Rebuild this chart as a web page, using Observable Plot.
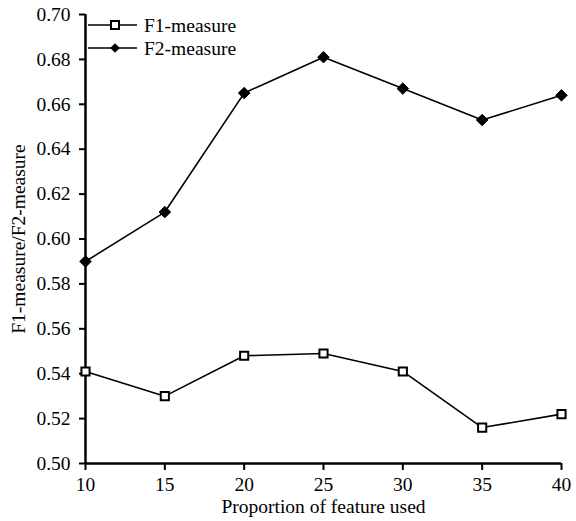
<!DOCTYPE html>
<html>
<head>
<meta charset="utf-8">
<script src="https://cdn.jsdelivr.net/npm/d3@7"></script>
<script src="https://cdn.jsdelivr.net/npm/@observablehq/plot@0.6"></script>
<style>
  html, body { margin: 0; padding: 0; background: #fff; }
  #chart { position: relative; width: 576px; height: 521px; }
</style>
</head>
<body>
<div id="chart"></div>
<script>
const proportions = [10, 15, 20, 25, 30, 35, 40];
const f1Values = [0.541, 0.530, 0.548, 0.549, 0.541, 0.516, 0.522];
const f2Values = [0.590, 0.612, 0.665, 0.681, 0.667, 0.653, 0.664];
const yTicks = [0.50, 0.52, 0.54, 0.56, 0.58, 0.60, 0.62, 0.64, 0.66, 0.68, 0.70];
const seriesNames = ["F1-measure", "F2-measure"];

const f1 = proportions.map((p, i) => ({x: p, y: f1Values[i]}));
const f2 = proportions.map((p, i) => ({x: p, y: f2Values[i]}));

const font = "'Liberation Serif', 'Times New Roman', serif";
const fs = 19.5;

const plot = Plot.plot({
  width: 576,
  height: 521,
  marginLeft: 85,
  marginRight: 15,
  marginTop: 14,
  marginBottom: 58,
  style: {fontFamily: font, fontSize: fs + "px", color: "#000", background: "#fff"},
  x: {domain: [10, 40], ticks: proportions, label: null},
  y: {domain: [0.5, 0.7], ticks: yTicks, label: null},
  marks: [
    Plot.axisX({ticks: proportions, tickSize: 7, tickPadding: 7, strokeWidth: 2, fontSize: fs, tickFormat: d => d,
      label: "Proportion of feature used", labelAnchor: "center", labelArrow: "none", labelOffset: 49}),
    Plot.axisY({ticks: yTicks, tickSize: 6, tickPadding: 9, strokeWidth: 2, fontSize: fs, tickFormat: d3.format(".2f"),
      label: "F1-measure/F2-measure", labelAnchor: "center", labelArrow: "none", labelOffset: 74}),
    Plot.ruleX([10], {strokeWidth: 2.5}),
    Plot.ruleY([0.5], {strokeWidth: 2.5}),
    Plot.line(f1, {x: "x", y: "y", stroke: "#000", strokeWidth: 1.6}),
    Plot.line(f2, {x: "x", y: "y", stroke: "#000", strokeWidth: 1.6}),
    Plot.dot(f1, {x: "x", y: "y", symbol: "square", r: 4.6, fill: "#fff", stroke: "#000", strokeWidth: 2}),
    Plot.dot(f2, {x: "x", y: "y", symbol: "diamond2", r: 5.2, fill: "#000", stroke: "#000", strokeWidth: 1})
  ]
});
document.getElementById("chart").appendChild(plot);

// Legend (top-left inside plot area)
const svg = d3.select(plot);
const leg = svg.append("g").attr("font-family", font).attr("font-size", fs).attr("text-anchor", "start");
const legendRows = [
  {name: seriesNames[0], y: 25, kind: "square"},
  {name: seriesNames[1], y: 48, kind: "diamond"}
];
legendRows.forEach(r => {
  leg.append("line").attr("x1", 88).attr("x2", 137).attr("y1", r.y).attr("y2", r.y)
    .attr("stroke", "#000").attr("stroke-width", 1.6);
  if (r.kind === "square") {
    leg.append("rect").attr("x", 111).attr("y", r.y - 4).attr("width", 8).attr("height", 8)
      .attr("fill", "#fff").attr("stroke", "#000").attr("stroke-width", 2);
  } else {
    leg.append("path").attr("d", d3.symbol(d3.symbolDiamond2, 60)()).attr("transform", `translate(115,${r.y})`)
      .attr("fill", "#000");
  }
  leg.append("text").attr("x", 144).attr("y", r.y).attr("dy", "0.35em").attr("text-anchor", "start").text(r.name);
});
</script>
</body>
</html>
